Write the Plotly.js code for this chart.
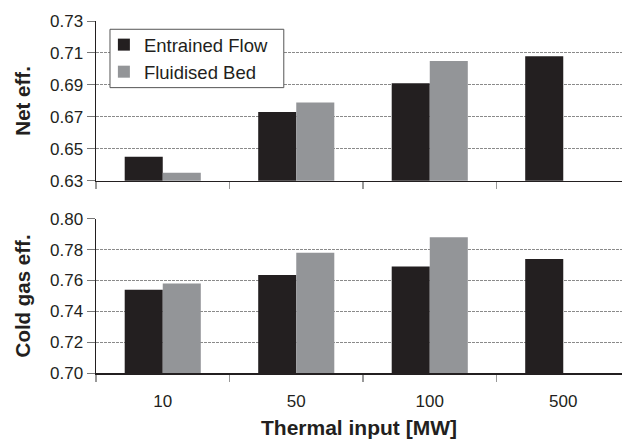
<!DOCTYPE html>
<html>
<head>
<meta charset="utf-8">
<script src="https://cdn.plot.ly/plotly-3.0.1.min.js"></script>
<style>html,body{margin:0;padding:0;background:#fff;}#chart{width:622px;height:439px;}</style>
</head>
<body>
<div id="chart"></div>
<script>
const categories = ['10', '50', '100', '500'];
const seriesNames = ['Entrained Flow', 'Fluidised Bed'];
const netEffEntrained = [0.645, 0.673, 0.691, 0.708];
const netEffFluidised = [0.635, 0.679, 0.705, null];
const coldGasEntrained = [0.754, 0.7635, 0.769, 0.774];
const coldGasFluidised = [0.758, 0.778, 0.788, null];
const netTicks = [0.63, 0.65, 0.67, 0.69, 0.71, 0.73];
const coldTicks = [0.70, 0.72, 0.74, 0.76, 0.78, 0.80];

const colBlack = '#231f20';
const colGray = '#939598';
const font = 'Liberation Sans, Arial, sans-serif';

const traces = [
  {type:'bar', x:categories, y:netEffEntrained, name:seriesNames[0], xaxis:'x2', yaxis:'y2',
   marker:{color:colBlack, line:{width:0}}, legendgroup:'a'},
  {type:'bar', x:categories, y:netEffFluidised, name:seriesNames[1], xaxis:'x2', yaxis:'y2',
   marker:{color:colGray, line:{width:0}}, legendgroup:'b'},
  {type:'bar', x:categories, y:coldGasEntrained, name:seriesNames[0], xaxis:'x', yaxis:'y',
   marker:{color:colBlack, line:{width:0}}, legendgroup:'a', showlegend:false},
  {type:'bar', x:categories, y:coldGasFluidised, name:seriesNames[1], xaxis:'x', yaxis:'y',
   marker:{color:colGray, line:{width:0}}, legendgroup:'b', showlegend:false}
];

const xBase = {
  type:'category', categoryorder:'array', categoryarray:categories,
  range:[-0.5, 3.44], showline:true, linecolor:'#231f20', linewidth:1.5,
  ticks:'outside', tickson:'boundaries', ticklen:7, tickcolor:'#999', tickwidth:1.5,
  showgrid:false, zeroline:false, fixedrange:true
};
const yBase = {
  showline:true, linecolor:'#231f20', linewidth:1.5,
  ticks:'outside', ticklen:8, tickcolor:'#777', tickwidth:1,
  showgrid:true, gridcolor:'#8a8a8a', griddash:'3px,1px', gridwidth:1,
  zeroline:false, tickformat:'.2f', tickfont:{size:17, color:'#231f20'},
  fixedrange:true
};

const layout = {
  width:622, height:439,
  margin:{l:96, r:0, t:21, b:66},
  paper_bgcolor:'#fff', plot_bgcolor:'#fff',
  font:{family:font, color:'#231f20', size:17},
  barmode:'group', bargap:0.43, bargroupgap:0,
  showlegend:true,
  legend:{x:0.015, y:0.9855, xanchor:'left', yanchor:'top',
    bgcolor:'rgba(0,0,0,0)', borderwidth:0,
    font:{size:18.5, family:font, color:'#231f20'}, tracegroupgap:0},
  shapes:[{type:'rect', xref:'paper', yref:'paper', x0:0.0266, x1:0.357, y0:0.8107, y1:0.9765,
    fillcolor:'#fff', line:{color:'#555', width:1}, layer:'above'}],
  xaxis:Object.assign({}, xBase, {anchor:'y', showticklabels:true,
    tickfont:{size:17, color:'#231f20'}, ticklabelstandoff:12,
    title:{text:'<b>Thermal input [MW]</b>', font:{size:21}, standoff:10}}),
  xaxis2:Object.assign({}, xBase, {anchor:'y2', showticklabels:false}),
  yaxis:Object.assign({}, yBase, {domain:[0, 0.438], range:[0.70, 0.80],
    tickvals:coldTicks, anchor:'x',
    title:{text:'<b>Cold gas eff.</b>', font:{size:20.5}, standoff:14}}),
  yaxis2:Object.assign({}, yBase, {domain:[0.546, 1], range:[0.63, 0.73],
    tickvals:netTicks, anchor:'x2',
    title:{text:'<b>Net eff.</b>', font:{size:20.5}, standoff:14}})
};

Plotly.newPlot('chart', traces, layout, {displayModeBar:false, staticPlot:true});
</script>
</body>
</html>
